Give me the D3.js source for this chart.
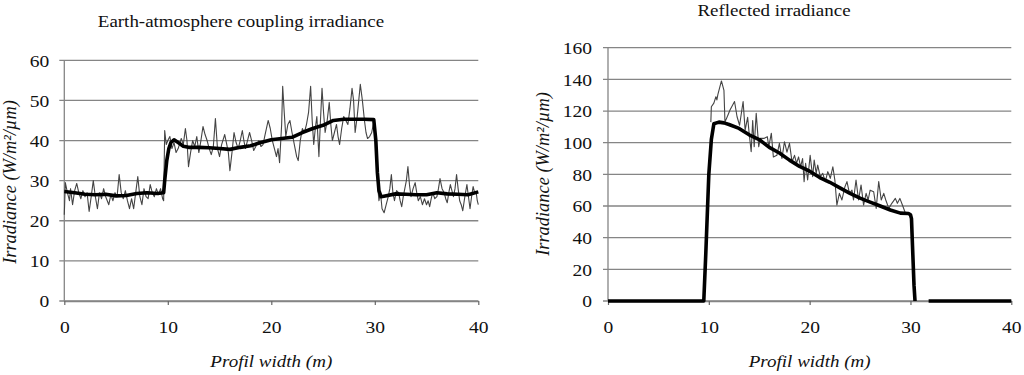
<!DOCTYPE html>
<html>
<head>
<meta charset="utf-8">
<script src="https://cdn.jsdelivr.net/npm/d3@7"></script>
<style>
  html, body { margin: 0; padding: 0; background: #fff; }
  svg { display: block; }
  text { font-family: "Liberation Serif", "DejaVu Serif", "Times New Roman", serif; fill: #111; }
</style>
</head>
<body>
<svg id="chart" width="1024" height="375"></svg>
<script>
// ---------- DATA ----------
const chartTitles = ["Earth-atmosphere coupling irradiance", "Reflected irradiance"];
const xAxisTitle = "Profil width (m)";
const yAxisTitle = "Irradiance (W/m²/µm)";
const xTicks = [0, 10, 20, 30, 40];
const yTicksCoupling = [0, 10, 20, 30, 40, 50, 60];
const yTicksReflected = [0, 20, 40, 60, 80, 100, 120, 140, 160];

// Earth-atmosphere coupling irradiance: measured (noisy) profile [distance, value]
const couplingMeasured = [
  [0,21.5],[0.1,29.5],[0.3,27],[0.5,25],[0.6,28],[0.8,24],[1.0,27.5],[1.2,29.3],[1.4,27],[1.6,25.5],
  [1.8,27.5],[2.0,26],[2.2,27],[2.4,22.3],[2.6,26],[2.8,30],[3.0,26],[3.2,23],[3.4,27],[3.6,25.5],
  [3.8,28],[4.0,26],[4.3,24],[4.5,26.5],[4.7,25],[4.9,27],[5.1,26],[5.3,31.5],[5.5,27],[5.7,25.5],
  [5.9,27.5],[6.1,25],[6.3,23],[6.5,25.5],[6.7,23],[6.9,27],[7.1,31],[7.3,26],[7.5,24],[7.7,28],
  [7.9,26],[8.1,25.5],[8.3,29],[8.5,27],[8.7,26],[8.9,28],[9.1,26.5],[9.3,28],[9.5,25.5],[9.6,25],
  [9.7,42.5],[9.85,39],[10.0,40],[10.2,41],[10.4,38],[10.6,39.5],[10.8,37],[11.0,38],[11.3,40.5],[11.5,39],
  [11.7,43],[11.85,40],[12.0,33.5],[12.2,37],[12.4,40],[12.6,38.5],[12.8,41],[13.0,37],[13.2,40],[13.4,43.5],
  [13.6,41.5],[13.8,40],[14.0,38],[14.2,36.5],[14.4,38.5],[14.6,45.5],[14.8,38],[15.0,36],[15.2,39],[15.5,41.5],
  [15.7,39],[15.85,37],[16.0,32.5],[16.2,37],[16.4,42],[16.6,39.5],[16.8,38],[17.0,40],[17.2,42.5],[17.35,40],
  [17.5,38],[17.7,40],[17.9,42],[18.1,40],[18.3,37.5],[18.5,38.5],[18.8,40],[19.0,38.5],[19.2,39],[19.4,41.5],
  [19.7,45],[19.9,43],[20.1,40],[20.3,38],[20.5,36],[20.65,38],[20.8,34.5],[21.0,44],[21.1,53.5],[21.25,47],
  [21.4,41],[21.6,44],[21.8,45],[22.0,42],[22.3,38],[22.45,36],[22.6,35],[22.8,40],[23.0,43],[23.2,42],
  [23.4,44],[23.6,47],[23.8,53.5],[23.95,45],[24.1,39],[24.25,43],[24.4,46],[24.6,36],[24.75,45],[24.9,53],
  [25.05,47],[25.2,42],[25.4,45],[25.6,49.5],[25.75,44],[25.9,40],[26.1,42],[26.3,44],[26.45,41],[26.6,39],
  [26.8,43],[27.0,46],[27.2,45],[27.4,44],[27.6,48],[27.8,53],[27.95,50],[28.1,42],[28.3,46],[28.45,50],
  [28.6,54],[28.8,50],[29.0,45],[29.15,42],[29.3,40.5],[29.5,41],[29.7,42],[29.85,44],[30.0,44],[30.1,38],
  [30.2,33],[30.3,28],[30.4,25],[30.55,27],[30.7,23],[30.9,22],[31.1,24],[31.3,26],[31.45,28],[31.6,31.5],
  [31.75,27],[31.9,25],[32.1,27.5],[32.3,27],[32.45,25],[32.6,23.5],[32.75,26],[32.9,28],[33.05,30],[33.2,33.5],
  [33.35,29],[33.5,26],[33.7,28],[33.9,29.5],[34.05,27],[34.2,25],[34.4,26],[34.6,24],[34.8,25.5],[35.0,24],
  [35.15,25],[35.3,23.5],[35.45,25.5],[35.6,27],[35.8,25.5],[36.0,26],[36.15,28],[36.3,30.5],[36.5,28],[36.7,27],
  [36.85,25.5],[37.0,24.5],[37.15,27],[37.3,29],[37.45,27.5],[37.6,26],[37.75,28],[37.9,31.5],[38.05,28],[38.2,25],
  [38.35,24],[38.5,22.5],[38.7,26],[38.9,29],[39.05,26],[39.2,23],[39.35,26],[39.5,28.5],[39.65,27],[39.8,27],
  [39.9,25],[40.0,24]
];

// Earth-atmosphere coupling irradiance: smoothed / modelled profile
const couplingModel = [
  [0,27.3],[1,27],[2,26.6],[3,26.5],[4,26.6],[5,26.2],[6,26.3],[7,26.8],[8,27],[9,26.8],[9.6,27],
  [9.7,30],[9.9,35],[10.1,38],[10.3,39.5],[10.6,40.2],[11,39.5],[11.5,38.6],[12,38.3],[13,38.3],
  [14,38.2],[15,38],[16,37.8],[17,38.3],[18,38.7],[19,39.5],[20,40.2],[21,40.5],[22,40.8],[23,42],
  [24,43],[25,43.8],[26,45],[27,45.3],[28,45.3],[29,45.3],[29.9,45.2],[30.1,40],[30.25,32],[30.4,27.5],
  [30.6,26],[31,26.2],[32,26.7],[33,26.6],[34,26.5],[35,26.5],[36,27],[37,26.7],[38,26.6],[39,26.5],[40,27.2]
];

// Reflected irradiance: measured (noisy) profile
const reflectedMeasured = [
  [10.2,113],[10.25,122.7],[10.5,125],[10.7,129],[10.8,127],[10.9,130.5],[11.25,139],[11.5,133],[11.6,113],[11.9,117.5],
  [12.1,120.6],[12.55,126],[12.8,116.4],[13.05,111],[13.4,126],[13.6,108],[13.85,116],[14.0,106],[14.2,94.3],[14.35,114],
  [14.5,97.5],[14.7,118.5],[14.95,97.5],[15.1,102.7],[15.45,102.7],[15.8,103.8],[15.95,97.5],[16.2,106],[16.4,91],[16.75,92],
  [17.0,99.6],[17.25,90],[17.5,100.6],[17.75,94],[18.0,99.6],[18.25,88],[18.5,92],[18.7,87],[18.9,91],[19.1,84.8],
  [19.3,90],[19.45,75.4],[19.6,87],[19.8,76.4],[20.05,92],[20.3,78.5],[20.45,89],[20.65,80.6],[20.8,85.9],[21.05,78.5],
  [21.3,80.6],[21.55,75.4],[21.8,81.7],[22.05,77.5],[22.3,84.8],[22.5,76.4],[22.7,60.6],[22.95,68],[23.2,63.8],[23.5,72.2],
  [23.7,75.4],[23.95,68],[24.2,70],[24.35,63.8],[24.6,76.4],[24.85,63.8],[25.1,73.3],[25.35,60.6],[25.6,68],[25.8,63.8],
  [26.0,70],[26.35,69],[26.6,58.5],[26.85,75.4],[27.1,63.8],[27.35,68],[27.55,63.8],[27.85,58.5],[28.15,61.7],[28.5,64.8],
  [28.7,61.7],[28.95,64.8],[29.2,60.6],[29.5,55.4]
];

// Reflected irradiance: smoothed / modelled profile (null = gap)
const reflectedModel = [
  [0,0],[9.5,0],[9.7,30],[10.0,80],[10.25,102],[10.5,112],[11,113],[11.5,112.5],[12,111.5],[13,109],
  [14,105],[15,102],[16,97],[17,93.5],[18,89],[19,85],[20,82],[21,78],[22,75],[23,71.5],
  [24,68],[25,65],[26,62.5],[27,60],[28,57.5],[29,55.5],[29.8,55.3],[30.0,54.5],[30.1,52],[30.2,35],
  [30.35,10],[30.45,0],[30.46,null],[31.8,0],[40,0]
];

// ---------- DRAWING ----------
const svg = d3.select("#chart");
const SERIF = '"Liberation Serif", "DejaVu Serif", serif';

// horizontally widen a text element around its anchor point
function widen(sel, sx) {
  sel.each(function () {
    const t = d3.select(this);
    const x = +t.attr("x") || 0, y = +t.attr("y") || 0;
    t.attr("x", 0).attr("y", 0).attr("transform", `translate(${x},${y}) scale(${sx},1)`);
  });
}

function drawPanel(cfg) {
  const g = svg.append("g");
  const x = d3.scaleLinear().domain([0, 40]).range([cfg.left, cfg.right]);
  const y = d3.scaleLinear().domain([0, cfg.yMax]).range([cfg.bottom, cfg.top]);

  // gridlines (extend left as tick marks)
  g.append("g").selectAll("line").data(cfg.yTicks).join("line")
    .attr("x1", cfg.left - 5).attr("x2", cfg.right)
    .attr("y1", d => y(d)).attr("y2", d => y(d))
    .attr("stroke", "#858585").attr("stroke-width", 1.3);

  // y axis line
  g.append("line").attr("x1", cfg.left).attr("x2", cfg.left)
    .attr("y1", cfg.top).attr("y2", cfg.bottom)
    .attr("stroke", "#858585").attr("stroke-width", 1.3);

  // x axis with ticks below
  const xAxis = d3.axisBottom(x).tickValues(xTicks).tickSize(4).tickSizeOuter(0).tickFormat(d3.format("d"));
  const xa = g.append("g").attr("transform", `translate(0,${cfg.bottom})`).call(xAxis)
    .attr("font-family", SERIF);
  xa.select(".domain").attr("stroke", "#858585").attr("stroke-width", 1.3);
  xa.selectAll(".tick line").attr("stroke", "#666").attr("stroke-width", 1.2);
  xa.selectAll(".tick text").attr("dy", null).attr("y", 32)
    .style("font-family", SERIF).style("font-size", "17px").attr("fill", "#111")
    .call(widen, 1.15);

  // y tick labels
  const ya = d3.axisLeft(y).tickValues(cfg.yTicks).tickSize(0).tickPadding(cfg.yLabelPad);
  const yg = g.append("g").attr("transform", `translate(${cfg.left},0)`).call(ya)
    .attr("font-family", SERIF);
  yg.select(".domain").remove();
  yg.selectAll(".tick text").attr("dy", "0.34em")
    .style("font-family", SERIF).style("font-size", "17px").attr("fill", "#111")
    .call(widen, 1.15);

  // lines
  const line = d3.line().defined(d => d[1] !== null).x(d => x(d[0])).y(d => y(d[1]));
  g.append("path").datum(cfg.measured).attr("d", line)
    .attr("fill", "none").attr("stroke", "#444").attr("stroke-width", 1.1).attr("stroke-linejoin", "round");
  g.append("path").datum(cfg.model).attr("d", line)
    .attr("fill", "none").attr("stroke", "#000").attr("stroke-width", 3.6).attr("stroke-linejoin", "round");

  // titles
  g.append("text").attr("x", cfg.titleX).attr("y", cfg.titleY).attr("text-anchor", "middle")
    .style("font-family", SERIF).style("font-size", "16.5px").text(cfg.title)
    .call(widen, 1.15);
  g.append("text").attr("x", (cfg.left + cfg.right) / 2).attr("y", 367).attr("text-anchor", "middle")
    .style("font-family", SERIF).style("font-size", "17px").style("font-style", "italic").text(xAxisTitle)
    .call(widen, 1.12);
  g.append("text").attr("transform", `translate(${cfg.yTitleX},${cfg.yTitleY}) rotate(-90)`)
    .attr("text-anchor", "middle").style("font-family", SERIF)
    .style("font-size", "18.4px").style("font-style", "italic")
    .text(yAxisTitle);
}

drawPanel({
  left: 64.3, right: 478.3, top: 60.3, bottom: 301, yMax: 60, yTicks: yTicksCoupling,
  yLabelPad: 15, measured: couplingMeasured, model: couplingModel,
  title: chartTitles[0], titleX: 241, titleY: 27, yTitleX: 16, yTitleY: 182
});
drawPanel({
  left: 608, right: 1011.3, top: 47.7, bottom: 301, yMax: 160, yTicks: yTicksReflected,
  yLabelPad: 16, measured: reflectedMeasured, model: reflectedModel,
  title: chartTitles[1], titleX: 774, titleY: 16, yTitleX: 549, yTitleY: 174
});
</script>
</body>
</html>
